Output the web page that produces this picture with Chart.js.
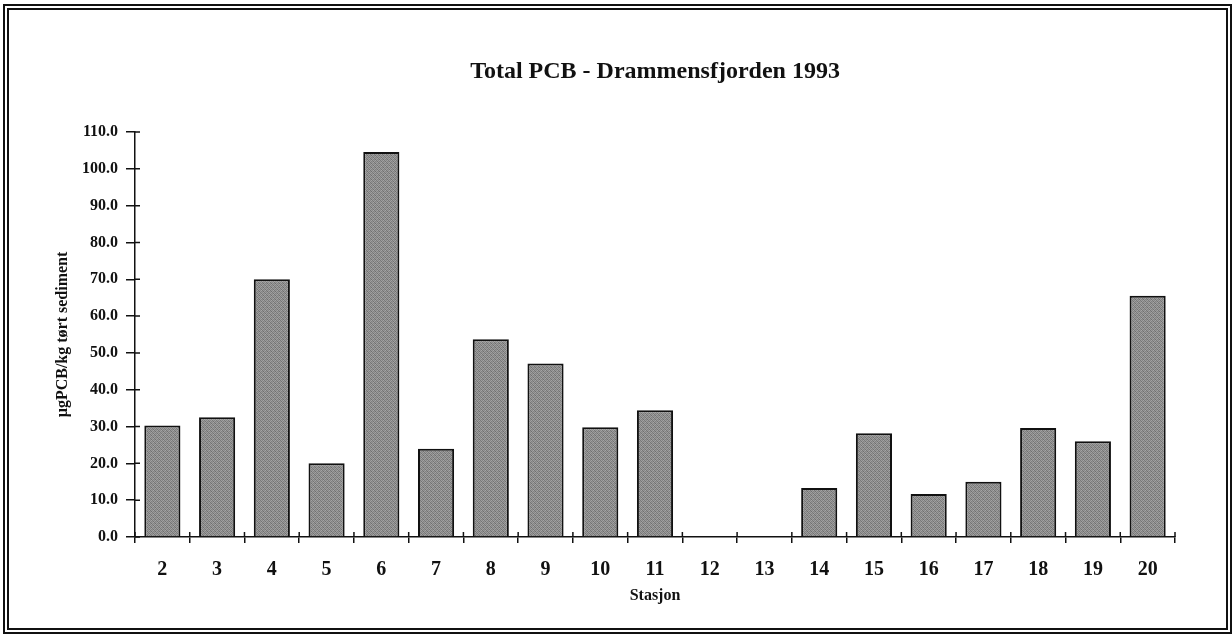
<!DOCTYPE html>
<html>
<head>
<meta charset="utf-8">
<script src="https://cdn.jsdelivr.net/npm/chart.js@4.4.1/dist/chart.umd.min.js"></script>
<style>
    body { margin: 0; background: #fff; }
    #wrap { position: relative; width: 1232px; height: 637px; }
    #chartPcb { position: absolute; left: 0; top: 0; }
    #frame {
        position: absolute; left: 3px; top: 4px; width: 1229px; height: 630px;
        box-sizing: border-box; border: 6px double #111; pointer-events: none;
    }
</style>
</head>
<body>
<div id="wrap">
    <canvas id="chartPcb" width="1232" height="637"></canvas>
    <div id="frame"></div>
</div>
<script>
const stations = ['2', '3', '4', '5', '6', '7', '8', '9', '10', '11', '12', '13', '14', '15', '16', '17', '18', '19', '20'];
const totalPcb = [30.3, 32.5, 70.0, 20.0, 104.6, 24.0, 53.7, 47.1, 29.8, 34.4, null, null, 13.3, 28.2, 11.7, 15.0, 29.6, 26.0, 65.5];
const yMin = 0;
const yMax = 110;
const yStep = 10;

const serif = '"Liberation Serif", "Times New Roman", serif';

// grainy grey fill, looks a bit like the scanned halftone
function makeBarPattern() {
    const shades = [
        '#7a7a7a', '#9c9c9c', '#858585', '#a3a3a3',
        '#959595', '#737373', '#a0a0a0', '#808080',
        '#888888', '#a6a6a6', '#767676', '#999999',
        '#9e9e9e', '#828282', '#939393', '#6f6f6f'
    ];
    const c = document.createElement('canvas');
    c.width = 4;
    c.height = 4;
    const g = c.getContext('2d');
    shades.forEach((s, i) => {
        g.fillStyle = s;
        g.fillRect(i % 4, Math.floor(i / 4), 1, 1);
    });
    return g.createPattern(c, 'repeat');
}

// small ticks that poke into the plot, the old chart had them crossing the axes
const innerTicks = {
    id: 'innerTicks',
    afterDatasetsDraw(chart) {
        const ctx = chart.ctx;
        const x = chart.scales.x;
        const y = chart.scales.y;
        ctx.save();
        ctx.strokeStyle = '#111';
        ctx.lineWidth = 1.5;
        ctx.beginPath();
        for (let v = yMin; v <= yMax; v += yStep) {
            const py = y.getPixelForValue(v);
            ctx.moveTo(x.left, py);
            ctx.lineTo(x.left + 5, py);
        }
        for (let i = 0; i <= stations.length; i++) {
            const px = x.getPixelForValue(i - 0.5);
            ctx.moveTo(px, y.bottom);
            ctx.lineTo(px, y.bottom - 5);
        }
        ctx.stroke();
        ctx.restore();
    }
};

const ctx = document.getElementById('chartPcb').getContext('2d');

new Chart(ctx, {
    type: 'bar',
    data: {
        labels: stations,
        datasets: [{
            label: 'Total PCB',
            data: totalPcb,
            backgroundColor: makeBarPattern(),
            borderColor: '#111',
            borderWidth: 2,
            barPercentage: 0.66,
            categoryPercentage: 1
        }]
    },
    options: {
        responsive: false,
        animation: false,
        layout: {
            padding: { top: 10, left: 40, right: 57, bottom: 31.4 }
        },
        plugins: {
            legend: { display: false },
            tooltip: { enabled: false },
            title: {
                display: true,
                fullSize: false,
                text: 'Total PCB - Drammensfjorden 1993',
                color: '#111',
                font: { family: serif, size: 24, weight: 'bold' },
                padding: { top: 47.6, bottom: 45.6 }
            }
        },
        scales: {
            x: {
                offset: true,
                afterFit(scale) { scale.height = 68.6; },
                grid: {
                    offset: true,
                    drawOnChartArea: false,
                    color: '#111',
                    lineWidth: 1.5,
                    tickLength: 6
                },
                border: { color: '#111', width: 1.5 },
                ticks: {
                    color: '#111',
                    padding: 15,
                    maxRotation: 0,
                    autoSkip: false,
                    font: { family: serif, size: 20, weight: 'bold' }
                },
                title: {
                    display: true,
                    text: 'Stasjon',
                    color: '#111',
                    font: { family: serif, size: 16, weight: 'bold' },
                    padding: { top: 4, bottom: 0 }
                }
            },
            y: {
                min: yMin,
                max: yMax,
                afterFit(scale) { scale.width = 95; },
                grid: {
                    drawOnChartArea: false,
                    color: '#111',
                    lineWidth: 1.5,
                    tickLength: 9
                },
                border: { color: '#111', width: 1.5 },
                ticks: {
                    stepSize: yStep,
                    color: '#111',
                    padding: 8,
                    font: { family: serif, size: 16, weight: 'bold' },
                    callback: v => v.toFixed(1)
                },
                title: {
                    display: true,
                    text: 'µgPCB/kg tørt sediment',
                    color: '#111',
                    font: { family: serif, size: 16, weight: 'bold' },
                    padding: { top: 13.4, bottom: 0 }
                }
            }
        }
    },
    plugins: [innerTicks]
});
</script>
</body>
</html>
